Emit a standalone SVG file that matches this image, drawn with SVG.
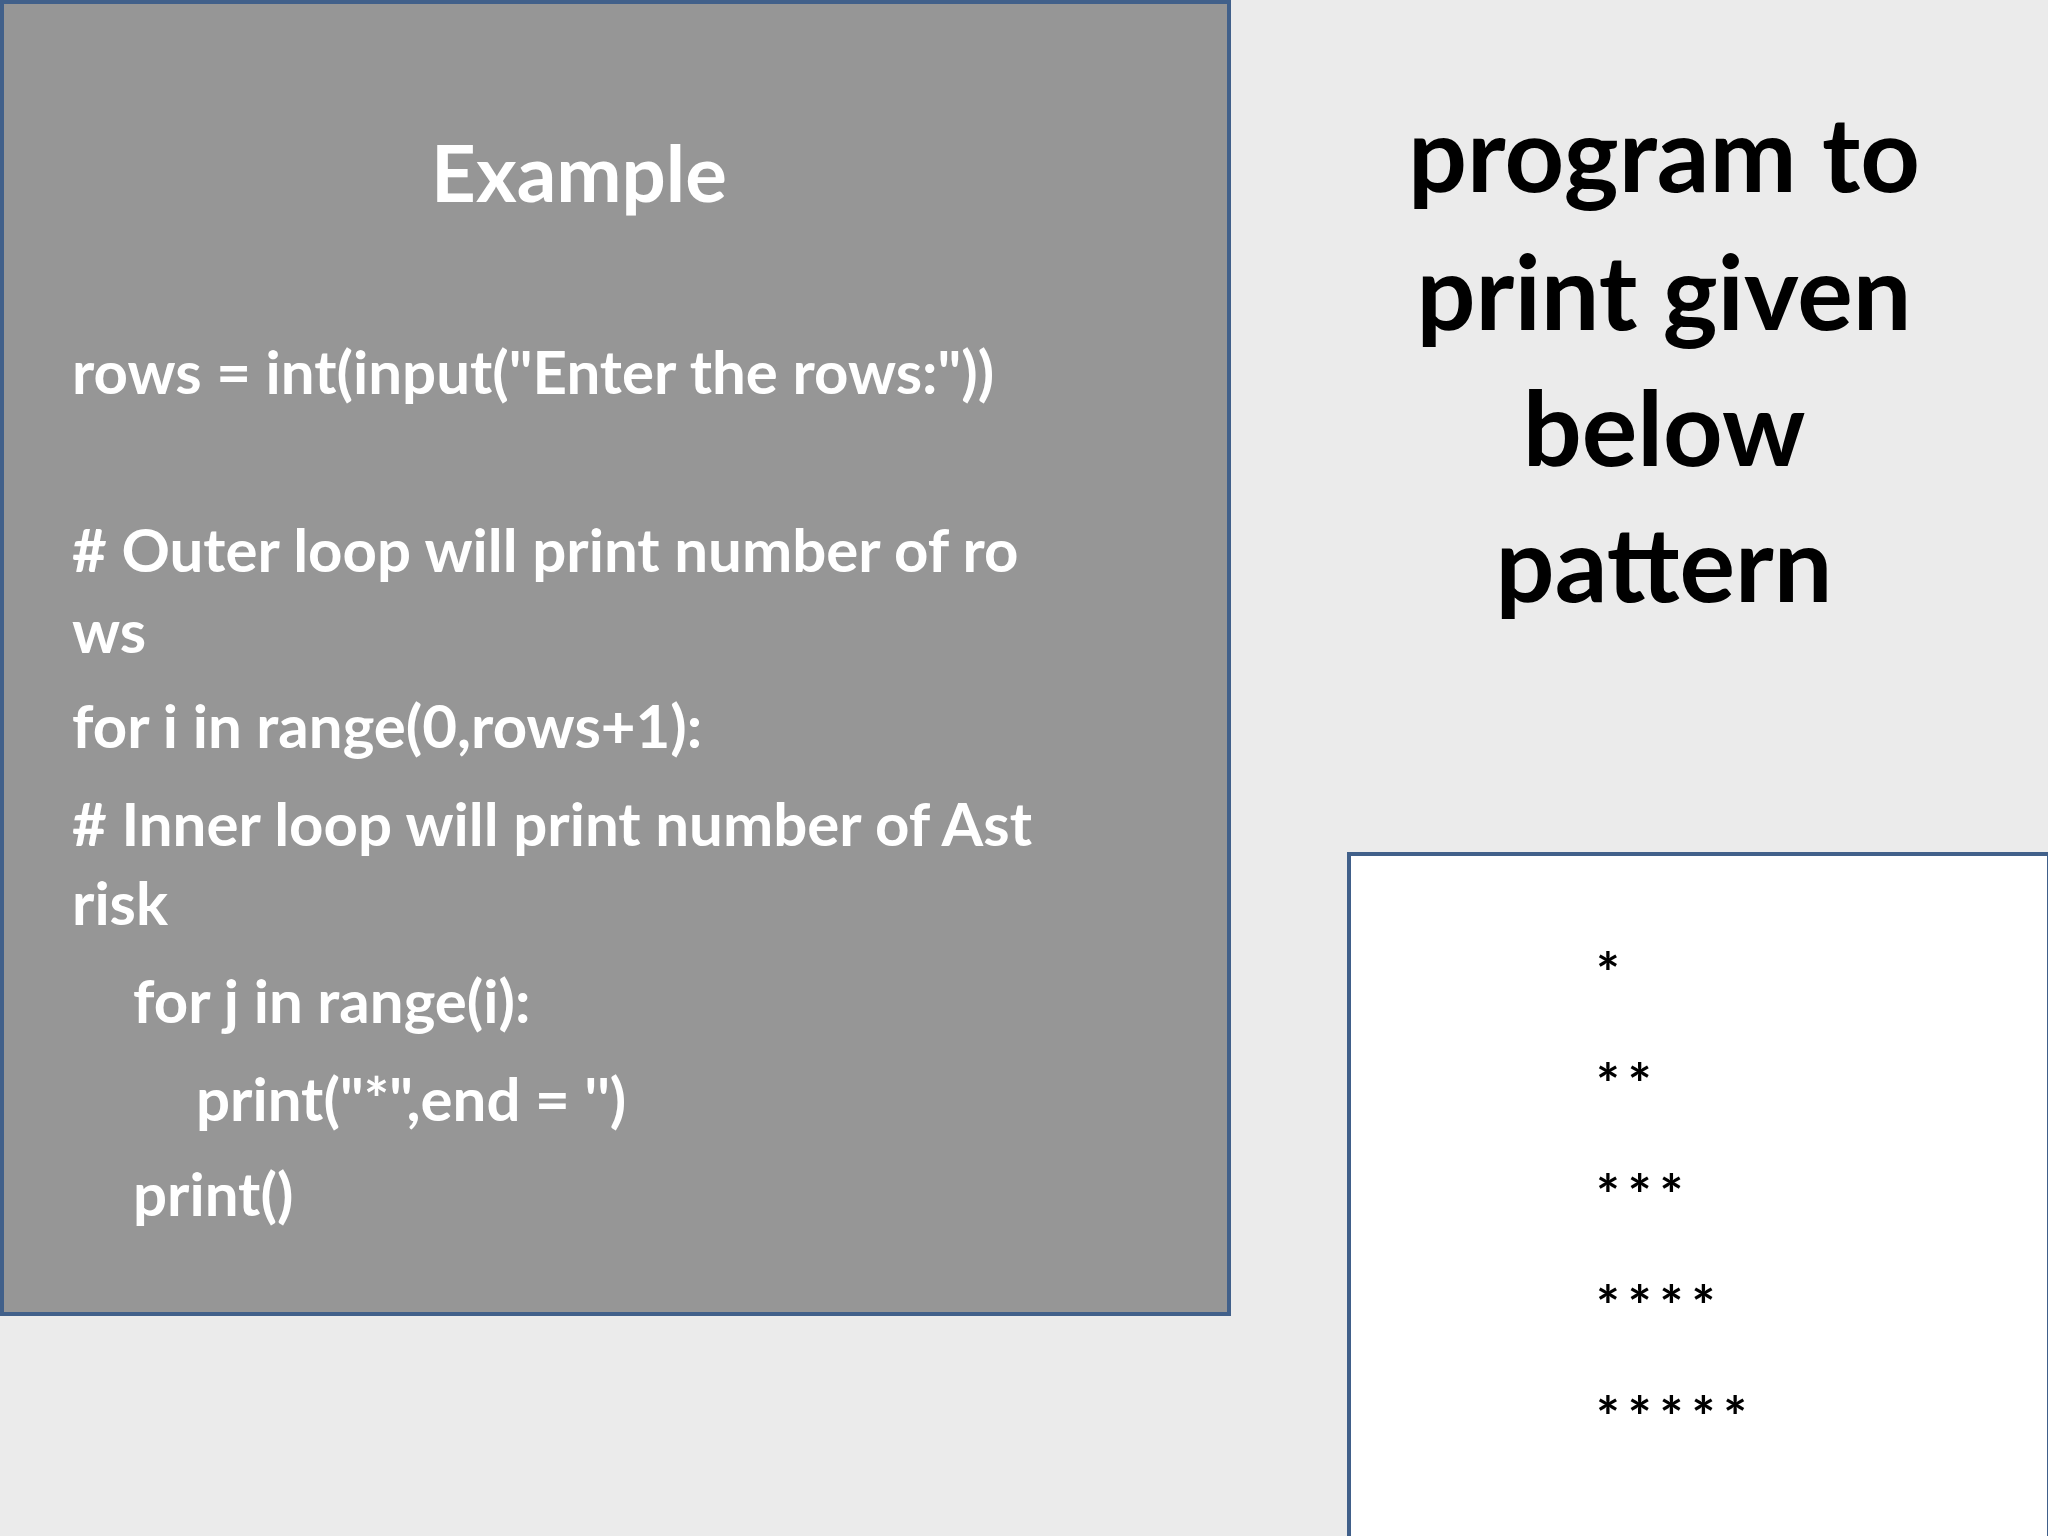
<svg xmlns="http://www.w3.org/2000/svg" width="2048" height="1536" viewBox="0 0 2048 1536">
<style>
.code{font-family:Lato,"Liberation Sans",sans-serif;font-weight:bold;font-size:60px;fill:#fff}
.t{font-family:Lato,"Liberation Sans",sans-serif;font-weight:bold;font-size:104px;fill:#000;text-anchor:middle}
.s{font-family:Lato,"Liberation Sans",sans-serif;font-weight:bold;font-size:56px;fill:#000;letter-spacing:8px}
</style>
<rect width="2048" height="1536" fill="#ebebeb"/>
<g id="code-box">
<rect x="2" y="2" width="1227" height="1312" fill="#969696" stroke="#41608a" stroke-width="4"/>
<text x="579" y="202" class="code" font-size="78" text-anchor="middle" style="font-size:78px">Example</text>
<text x="72" y="394" class="code">rows = int(input("Enter the rows:"))</text>
<text x="72" y="572" class="code"># Outer loop will print number of ro</text>
<text x="72" y="653" class="code">ws</text>
<text x="72" y="748" class="code">for i in range(0,rows+1):</text>
<text x="72" y="846" class="code"># Inner loop will print number of Ast</text>
<text x="72" y="925" class="code">risk</text>
<text x="133" y="1023" class="code">for j in range(i):</text>
<text x="196" y="1121" class="code">print("*",end = '')</text>
<text x="133" y="1216" class="code">print()</text>
</g>
<g id="title">
<text x="1664" y="192" class="t">program to</text>
<text x="1664" y="330" class="t">print given</text>
<text x="1664" y="466" class="t">below</text>
<text x="1664" y="602" class="t">pattern</text>
</g>
<g id="pattern-box">
<rect x="1349" y="854" width="700" height="684" fill="#fff" stroke="#41608a" stroke-width="4"/>
<text x="1596" y="993" class="s">*</text>
<text x="1596" y="1104" class="s">**</text>
<text x="1596" y="1215" class="s">***</text>
<text x="1596" y="1326" class="s">****</text>
<text x="1596" y="1437" class="s">*****</text>
</g>
<g id="connectors"/>
</svg>
